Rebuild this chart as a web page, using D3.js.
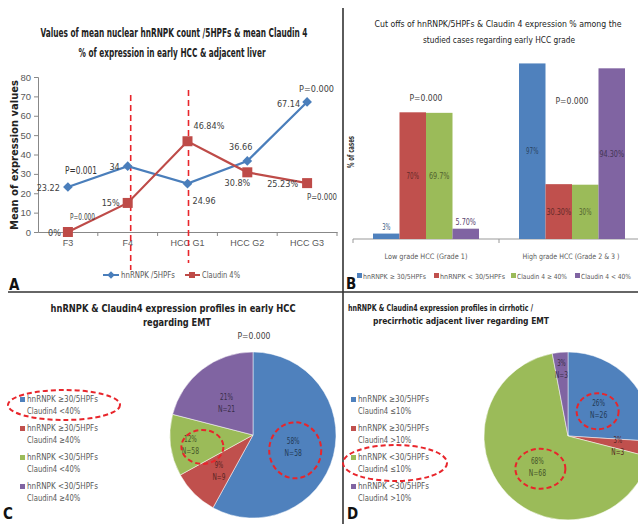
<!DOCTYPE html>
<html><head><meta charset="utf-8">
<script src="https://cdn.jsdelivr.net/npm/d3@7"></script>
<style>
body{margin:0;background:#fff}
svg{display:block;font-family:"DejaVu Sans Condensed","Liberation Sans Narrow","Arial Narrow",sans-serif}
</style></head><body>
<svg width="638" height="524"></svg>
<script>
// ---- panel A: mean values per stage
var stages = ["F3", "F4", "HCC G1", "HCC G2", "HCC G3"];
var hnrnpk = [23.22, 34, 24.96, 36.66, 67.14];
var claudin = [0, 15, 46.84, 30.8, 25.23];
var yTicksA = [0, 10, 20, 30, 40, 50, 60, 70, 80];
var seriesNamesA = ["hnRNPK /5HPFs", "Claudin 4%"];

// ---- panel B: cut offs per grade
var grades = ["Low grade HCC (Grade 1)", "High grade HCC  (Grade 2 & 3 )"];
var cutoffs = ["hnRNPK \u2265 30/5HPFs", "hnRNPK < 30/5HPFs", "Claudin 4 \u2265 40%", "Claudin 4 < 40%"];
var lowGrade = [3, 70, 69.7, 5.7];
var highGrade = [97, 30.3, 30, 94.3];
var lowLabels = ["3%", "70%", "69.7%", "5.70%"];
var highLabels = ["97%", "30.30%", "30%", "94.30%"];

// ---- panel C: profiles in early HCC
var profilesC = [["hnRNPK \u226530/5HPFs", "Claudin4 <40%"], ["hnRNPK \u226530/5HPFs", "Claudin4 \u226540%"],
                 ["hnRNPK <30/5HPFs", "Claudin4 <40%"], ["hnRNPK <30/5HPFs", "Claudin4 \u226540%"]];
var pctC = [58, 9, 12, 21];
var nC = [58, 9, 58, 21];

// ---- panel D: profiles in adjacent liver
var profilesD = [["hnRNPK \u226530/5HPFs", "Claudin4 \u226410%"], ["hnRNPK \u226530/5HPFs", "Claudin4 >10%"],
                 ["hnRNPK <30/5HPFs", "Claudin4 \u226410%"], ["hnRNPK <30/5HPFs", "Claudin4 >10%"]];
var pctD = [26, 3, 68, 3];
var nD = [26, 3, 68, 3];

var colors = ["#4F81BD", "#C0504D", "#9BBB59", "#8064A2"];
var grey = "#595959";

var svg = d3.select("svg");

function txt(g, x, y, s, size, opt) {
  opt = opt || {};
  var t = g.append("text").attr("x", x).attr("y", y).text(s)
    .attr("font-size", size + "px")
    .attr("fill", opt.fill || "#222")
    .attr("text-anchor", opt.anchor || "start");
  if (opt.bold) t.attr("font-weight", "bold");
  if (opt.len) t.attr("textLength", opt.len).attr("lengthAdjust", "spacingAndGlyphs");
  return t;
}

// frame lines
svg.append("line").attr("x1", 343).attr("x2", 343).attr("y1", 8).attr("y2", 524)
  .attr("stroke", "#333").attr("stroke-width", 1.6);
svg.append("line").attr("x1", 8).attr("x2", 638).attr("y1", 292).attr("y2", 292)
  .attr("stroke", "#333").attr("stroke-width", 1.6);

// ================= A =================
var gA = svg.append("g");
txt(gA, 174, 37, "Values of mean nuclear hnRNPK count /5HPFs & mean Claudin 4", 11.5, {bold: 1, anchor: "middle", len: 267});
txt(gA, 172, 57, "% of  expression in early HCC & adjacent liver", 11.5, {bold: 1, anchor: "middle", len: 187});

var xA = d3.scaleBand().domain(stages).range([38, 337]);
var yA = d3.scaleLinear().domain([0, 80]).range([232, 77]);

gA.append("g").attr("transform", "translate(38,0)")
  .call(d3.axisLeft(yA).tickValues(yTicksA).tickSize(4).tickPadding(3))
  .call(function (a) {
    a.selectAll("path,line").attr("stroke", "#888");
    a.selectAll("text").attr("fill", grey).attr("font-size", "9.5px").attr("font-family", null);
  });
var xAx = gA.append("g").attr("transform", "translate(0,232)")
  .call(d3.axisBottom(xA).tickSize(0).tickPadding(8))
  .call(function (a) {
    a.select("path").attr("stroke", "#888");
    a.selectAll("text").attr("fill", grey).attr("font-size", "9px").attr("font-family", null);
  });
stages.forEach(function (s) {
  xAx.append("line").attr("x1", xA(s) + xA.bandwidth()).attr("x2", xA(s) + xA.bandwidth())
    .attr("y1", 0).attr("y2", 4).attr("stroke", "#888");
});
txt(gA, 0, 0, "Mean of expression values", 10, {bold: 1, anchor: "middle", len: 150})
  .attr("transform", "translate(18,155) rotate(-90)");

// dashed separators
[[1, 3, 95, 270], [2, 1, 90, 263]].forEach(function (d) {
  var x = xA(stages[d[0]]) + xA.bandwidth() / 2 + d[1];
  gA.append("line").attr("x1", x).attr("x2", x).attr("y1", d[2]).attr("y2", d[3])
    .attr("stroke", "#E8252B").attr("stroke-width", 1.6).attr("stroke-dasharray", "6,4");
});

var cx = function (d, i) { return xA(stages[i]) + xA.bandwidth() / 2; };
var lineA = d3.line().x(cx).y(function (d) { return yA(d); });
gA.append("path").datum(hnrnpk).attr("d", lineA).attr("fill", "none").attr("stroke", "#4A7EBB").attr("stroke-width", 2.2);
gA.append("path").datum(claudin).attr("d", lineA).attr("fill", "none").attr("stroke", "#BE4B48").attr("stroke-width", 2.2);
gA.selectAll(".dia").data(hnrnpk).enter().append("path")
  .attr("d", d3.symbol(d3.symbolDiamond2, 60))
  .attr("transform", function (d, i) { return "translate(" + cx(d, i) + "," + yA(d) + ")"; })
  .attr("fill", "#4A7EBB");
gA.selectAll(".sq").data(claudin).enter().append("rect")
  .attr("x", function (d, i) { return cx(d, i) - 5; }).attr("y", function (d) { return yA(d) - 5; })
  .attr("width", 10).attr("height", 10).attr("fill", "#BE4B48");

// data labels: offsets from the point
var offB = [[-8, 4, "end"], [-8, 4, "end"], [5, 20, "start"], [5, -11, "end"], [-7, 5, "end"]];
var offR = [[-7, 4, "end"], [-8, 3, "end"], [6, -12, "start"], [3, 14, "end"], [-9, 4, "end"]];
hnrnpk.forEach(function (v, i) {
  txt(gA, cx(v, i) + offB[i][0], yA(v) + offB[i][1], String(v), 9, {fill: "#404040", anchor: offB[i][2]});
});
claudin.forEach(function (v, i) {
  txt(gA, cx(v, i) + offR[i][0], yA(v) + offR[i][1], v + "%", 9, {fill: "#404040", anchor: offR[i][2]});
});
txt(gA, 65, 174, "P=0.001", 10.5, {fill: "#333", len: 32});
txt(gA, 70, 220, "P=0.000", 8.5, {fill: "#404040", len: 25});
txt(gA, 299, 92, "P=0.000", 9, {fill: "#404040", len: 35});
txt(gA, 307, 200, "P=0.000", 8, {fill: "#404040", len: 30});

// legend A
gA.append("line").attr("x1", 103).attr("x2", 119).attr("y1", 275).attr("y2", 275).attr("stroke", "#4A7EBB").attr("stroke-width", 2);
gA.append("path").attr("d", d3.symbol(d3.symbolDiamond2, 36)).attr("transform", "translate(111,275)").attr("fill", "#4A7EBB");
txt(gA, 121, 278, seriesNamesA[0], 9, {fill: grey, len: 54});
gA.append("line").attr("x1", 185).attr("x2", 200).attr("y1", 275).attr("y2", 275).attr("stroke", "#BE4B48").attr("stroke-width", 2);
gA.append("rect").attr("x", 189).attr("y", 272).attr("width", 6).attr("height", 6).attr("fill", "#BE4B48");
txt(gA, 202, 278, seriesNamesA[1], 9, {fill: grey, len: 38});
txt(gA, 9, 290, "A", 15, {bold: 1, fill: "#111"});

// ================= B =================
var gB = svg.append("g");
txt(gB, 498, 27, "Cut  offs of hnRNPK/5HPFs & Claudin 4 expression %  among the", 8.5, {anchor: "middle", len: 247});
txt(gB, 499, 43, "studied cases regarding early HCC grade", 9, {anchor: "middle", len: 152});

var x0B = d3.scaleBand().domain(grades).range([353, 645]);
var x1B = d3.scaleBand().domain(cutoffs).range([0, 106]);
var yB = d3.scaleLinear().domain([0, 100]).range([239, 58]);
gB.append("line").attr("x1", 353).attr("x2", 638).attr("y1", 239).attr("y2", 239).attr("stroke", "#999");
gB.append("line").attr("x1", 499).attr("x2", 499).attr("y1", 239).attr("y2", 243).attr("stroke", "#999");
gB.append("line").attr("x1", 353).attr("x2", 353).attr("y1", 239).attr("y2", 243).attr("stroke", "#999");

var groupsB = [{g: grades[0], v: lowGrade, l: lowLabels}, {g: grades[1], v: highGrade, l: highLabels}];
groupsB.forEach(function (gr) {
  var gx = x0B(gr.g) + (x0B.bandwidth() - 106) / 2;
  gr.v.forEach(function (v, i) {
    var x = gx + x1B(cutoffs[i]);
    gB.append("rect").attr("x", x).attr("y", yB(v)).attr("width", x1B.bandwidth()).attr("height", yB(0) - yB(v))
      .attr("fill", colors[i]);
    var inside = v > 20;
    txt(gB, x + x1B.bandwidth() / 2, inside ? (yB(v) + yB(0)) / 2 + 3 : yB(v) - 4, gr.l[i], 8.5,
      {anchor: "middle", fill: d3.color(colors[i]).darker(inside ? 1.8 : 1).toString(),
       len: gr.l[i].length * 4.1});
  });
  txt(gB, x0B(gr.g) + x0B.bandwidth() / 2 + (gr.g === grades[0] ? 0 : -1), 259, gr.g, 7.5,
    {anchor: "middle", fill: grey, len: gr.g === grades[0] ? 83 : 97});
});
txt(gB, 426, 101, "P=0.000", 9, {anchor: "middle", fill: "#404040", len: 33});
txt(gB, 572, 104, "P=0.000", 9, {anchor: "middle", fill: "#404040", len: 33});
txt(gB, 0, 0, "% of cases", 8.5, {bold: 1, anchor: "middle", fill: "#333", len: 32})
  .attr("transform", "translate(354,152) rotate(-90)");

// legend B
var legBx = [357, 434, 511, 575], legBw = [63, 65, 50, 50];
cutoffs.forEach(function (c, i) {
  gB.append("rect").attr("x", legBx[i]).attr("y", 273).attr("width", 5).attr("height", 5).attr("fill", colors[i]);
  txt(gB, legBx[i] + 6, 279, c, 7, {fill: grey, len: legBw[i]});
});
txt(gB, 346, 289, "B", 15, {bold: 1, fill: "#111"});

// ================= pies =================
function ellipse(g, x, y, rx, ry) {
  g.append("ellipse").attr("cx", x).attr("cy", y).attr("rx", rx).attr("ry", ry)
    .attr("fill", "none").attr("stroke", "#E8252B").attr("stroke-width", 2).attr("stroke-dasharray", "5,3");
}
function pieChart(g, pct, n, c, r, labelR) {
  var pie = d3.pie().sort(null)(pct);
  var arc = d3.arc().innerRadius(0).outerRadius(r);
  var pg = g.append("g").attr("transform", "translate(" + c[0] + "," + c[1] + ")");
  pg.selectAll("path").data(pie).enter().append("path").attr("d", arc)
    .attr("fill", function (d, i) { return colors[i]; })
    .attr("stroke", "#fff").attr("stroke-width", 0.5);
  var pos = [];
  pie.forEach(function (d, i) {
    var la = d3.arc().innerRadius(0).outerRadius(2 * r * labelR[i]);
    var p = la.centroid(d);
    pos.push([c[0] + p[0], c[1] + p[1]]);
    var col = d3.color(colors[i]).darker(2.2).toString();
    var a = pct[i] + "%", b = "N=" + n[i];
    txt(g, c[0] + p[0], c[1] + p[1] - 1, a, 8.5, {anchor: "middle", fill: col, len: a.length * 4.3});
    txt(g, c[0] + p[0], c[1] + p[1] + 11, b, 8.5, {anchor: "middle", fill: col, len: b.length * 4.3});
  });
  return pos;
}
function pieLegend(g, x, profiles) {
  var ys = [401, 430, 459, 488];
  profiles.forEach(function (p, i) {
    g.append("rect").attr("x", x).attr("y", ys[i] - 4).attr("width", 5).attr("height", 5).attr("fill", colors[i]);
    txt(g, x + 7, ys[i] + 1, p[0], 9, {fill: grey, len: 71});
    txt(g, x + 7, ys[i] + 13, p[1], 9, {fill: grey, len: p[1].length * 4.1});
  });
}

// C
var gC = svg.append("g");
txt(gC, 173, 312, "hnRNPK & Claudin4 expression profiles in early HCC", 10.5, {bold: 1, anchor: "middle", len: 245});
txt(gC, 177, 326, "regarding EMT", 10.5, {bold: 1, anchor: "middle", len: 68});
txt(gC, 254, 339, "P=0.000", 9, {anchor: "middle", fill: "#404040", len: 33});
var posC = pieChart(gC, pctC, nC, [253, 435], 83, [0.5, 0.58, 0.76, 0.52]);
ellipse(gC, posC[0][0] + 2, posC[0][1] + 5, 26, 28);
ellipse(gC, posC[2][0] + 12, posC[2][1] + 4, 21, 17);
pieLegend(gC, 20, profilesC);
ellipse(gC, 64, 405, 56, 15);
txt(gC, 3, 519, "C", 15, {bold: 1, fill: "#111"});

// D
var gD = svg.append("g");
txt(gD, 348, 311, "hnRNPK & Claudin4 expression profiles in cirrhotic /", 9, {bold: 1, len: 185});
txt(gD, 373, 324, "precirrhotic adjacent liver regarding EMT", 9, {bold: 1, len: 176});
var posD = pieChart(gD, pctD, nD, [568, 436], 84, [0.5, 0.6, 0.5, 0.83]);
ellipse(gD, posD[0][0] - 1, posD[0][1] + 4, 21, 18);
ellipse(gD, posD[2][0] + 3, posD[2][1] + 4, 25, 20);
pieLegend(gD, 351, profilesD);
ellipse(gD, 395, 463, 52, 18);
txt(gD, 347, 519, "D", 15, {bold: 1, fill: "#111"});
</script>
</body></html>
